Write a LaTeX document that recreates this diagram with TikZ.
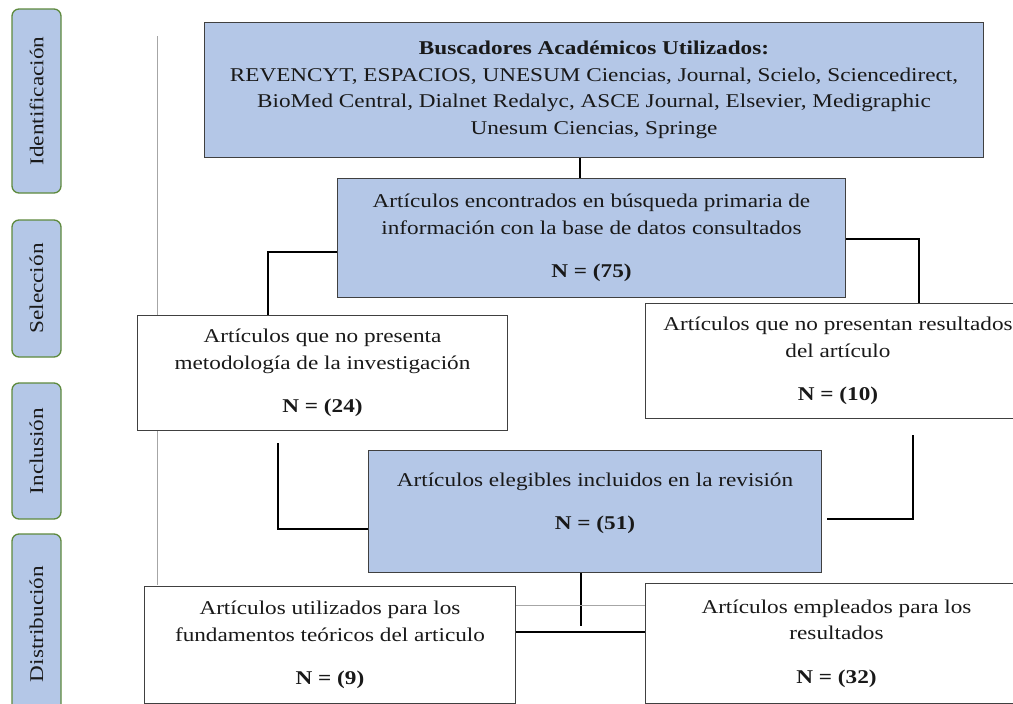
\documentclass[tikz,border=0pt]{standalone}
\usepackage{fontspec}
\setmainfont{Liberation Serif}[FakeStretch=1.19]
\definecolor{lblue}{HTML}{B4C7E7}
\definecolor{bordgray}{HTML}{404040}
\definecolor{lgreen}{HTML}{5E8A3E}
\definecolor{linegray}{HTML}{A6A6A6}
\begin{document}
\begin{tikzpicture}[x=1pt,y=-1pt,
  every node/.style={font=\fontsize{19.5}{26.5}\selectfont, text=black!90},
  bluebox/.style={draw=bordgray, line width=1pt, fill=lblue, anchor=north west, align=center, inner sep=0pt},
  whitebox/.style={draw=bordgray, line width=1pt, fill=white, anchor=north west, align=center, inner sep=0pt},
  sidelabel/.style={draw=lgreen, line width=1.3pt, fill=lblue, rounded corners=7pt, rotate=90, minimum height=49pt, inner sep=0pt},
  conn/.style={draw=black, line width=1.8pt},
  thin/.style={draw=linegray, line width=1pt}
]
\clip (0,0) rectangle (1013,704);
\fill[white] (0,0) rectangle (1013,704);

% side labels
\node[sidelabel, minimum width=184pt] (sid) at (36.5,101) {Identificación};
\node[sidelabel, minimum width=137pt] (ssel) at (36.5,288.5) {Selección};
\node[sidelabel, minimum width=136pt] (sinc) at (36.5,451) {Inclusión};
\node[sidelabel, minimum width=180pt] (sdis) at (36.5,624) {Distribución};

% gray vertical guide
\coordinate (g1) at (157,36);
\coordinate (g2) at (157,585);
\draw[thin] (g1) -- (g2);

% boxes
\node[bluebox, minimum width=779pt, minimum height=135pt] (top) at (204,22)
  {\textbf{Buscadores Académicos Utilizados:}\\
   REVENCYT, ESPACIOS, UNESUM Ciencias, Journal, Scielo, Sciencedirect,\\
   BioMed Central, Dialnet Redalyc, ASCE Journal, Elsevier, Medigraphic\\
   Unesum Ciencias, Springe};
\node[bluebox, minimum width=508pt, minimum height=119pt] (b75) at (337,178)
  {Artículos encontrados en búsqueda primaria de\\
   información con la base de datos consultados\\[17pt]
   \textbf{N = (75)}};
\node[whitebox, minimum width=370pt, minimum height=115pt] (b24) at (137,315)
  {Artículos que no presenta\\
   metodología de la investigación\\[17pt]
   \textbf{N = (24)}};
\node[whitebox, minimum width=385pt, minimum height=115pt] (b10) at (645,303)
  {Artículos que no presentan resultados\\
   del artículo\\[17pt]
   \textbf{N = (10)}};
\node[bluebox, minimum width=453pt, minimum height=122pt] (b51) at (368,450)
  {Artículos elegibles incluidos en la revisión\\[17pt]
   \textbf{N = (51)}\\[-6pt]\mbox{}};
\node[whitebox, minimum width=371pt, minimum height=117pt] (b9) at (144,586)
  {Artículos utilizados para los\\
   fundamentos teóricos del articulo\\[17pt]
   \textbf{N = (9)}};
\node[whitebox, minimum width=382pt, minimum height=120pt] (b32) at (645,583)
  {Artículos empleados para los\\
   resultados\\[17pt]
   \textbf{N = (32)}};

% connector helper coordinates
\coordinate (c1) at (580,0);
\coordinate (yl) at (0,252);
\coordinate (xl) at (268,0);
\coordinate (yr) at (0,239);
\coordinate (xr) at (919,0);
\coordinate (p24a) at (278,443);
\coordinate (p24b) at (278,529);
\coordinate (p10a) at (913,435);
\coordinate (p10b) at (913,519);
\coordinate (p51e) at (827,519);
\coordinate (c2) at (581,0);
\coordinate (p51d) at (581,626);
\coordinate (yb) at (0,632);
\coordinate (yg) at (0,605);

% connectors
\draw[conn] (top.south -| c1) -- (b75.north -| c1);
\draw[conn] (b75.west |- yl) -| (b24.north -| xl);
\draw[conn] (b75.east |- yr) -| (b10.north -| xr);
\draw[conn] (p24a) -- (p24b) -- (b51.west |- p24b);
\draw[conn] (p10a) -- (p10b) -- (p51e);
\draw[conn] (b51.south -| c2) -- (p51d);
\draw[thin] (b9.east |- yg) -- (b32.west |- yg);
\draw[conn] (b9.east |- yb) -- (b32.west |- yb);
\end{tikzpicture}
\end{document}
